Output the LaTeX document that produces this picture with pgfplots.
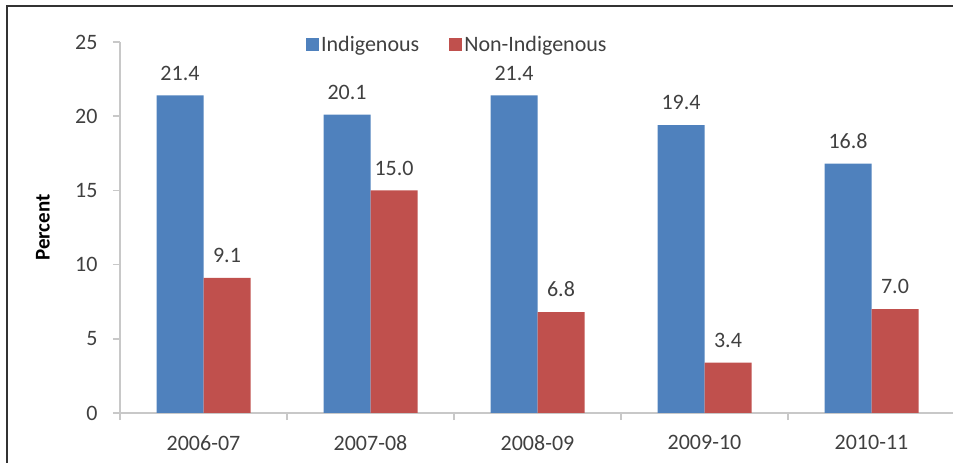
\documentclass[border=0pt]{standalone}
\usepackage{pgfplots}
\pgfplotsset{compat=1.18}
\usepackage{fontspec}
\setmainfont{Carlito}
\definecolor{indig}{HTML}{4F81BD}
\definecolor{nonindig}{HTML}{C0504D}
\definecolor{axisgray}{HTML}{C8C8C8}
\definecolor{txt}{HTML}{404040}

\pgfplotsset{
  sq legend/.style={legend image code/.code={\fill[##1] (0pt,-6.5pt) rectangle (13pt,6.5pt);}},
}

\begin{document}
\begin{tikzpicture}[x=1pt,y=1pt,font=\fontsize{22}{26}\selectfont]
\begin{axis}[
  at={(120pt,50pt)}, anchor=south west,
  scale only axis, width=835pt, height=371pt,
  ybar=0pt, bar width=47pt,
  xmin=-0.5, xmax=4.5, ymin=0, ymax=25,
  xtick={-0.5,0.5,...,4.5},
  xticklabels={,2006-07,2007-08,2008-09,2009-10,2010-11},
  xticklabel style={xshift=-83.5pt, yshift=-12pt, text=txt},
  ytick={0,5,...,25},
  yticklabel style={xshift=-12pt, text=txt},
  axis x line=bottom, axis y line=left,
  axis line style={-, draw=axisgray, line width=1.5pt},
  tick style={draw=axisgray, line width=1.5pt},
  tick align=outside, major tick length=7pt,
  /pgf/number format/assume math mode=true,
  nodes near coords,
  every node near coord/.append style={text=txt, yshift=11.5pt,
    /pgf/number format/fixed, /pgf/number format/fixed zerofill,
    /pgf/number format/precision=1},
  legend columns=2,
  legend style={at={(0.404,0.992)}, anchor=center, draw=none, fill=none,
    text=txt, /tikz/every even column/.append style={column sep=28pt},
    nodes={xshift=2pt}},
]
\addplot[fill=indig, draw=none, sq legend] coordinates {(0,21.4) (1,20.1) (2,21.4) (3,19.4) (4,16.8)};
\addplot[fill=nonindig, draw=none, sq legend] coordinates {(0,9.1) (1,15.0) (2,6.8) (3,3.4) (4,7.0)};
\legend{Indigenous, Non-Indigenous}
\end{axis}
\node[rotate=90, font=\fontsize{21}{25}\selectfont\bfseries] at (43,235.5) {Percent};
\draw[draw=black!80, line width=2pt] (7,-10) -- (7,457) -- (970,457);
\pgfresetboundingbox
\path[use as bounding box] (0,0) rectangle (953,463);
\end{tikzpicture}
\end{document}
